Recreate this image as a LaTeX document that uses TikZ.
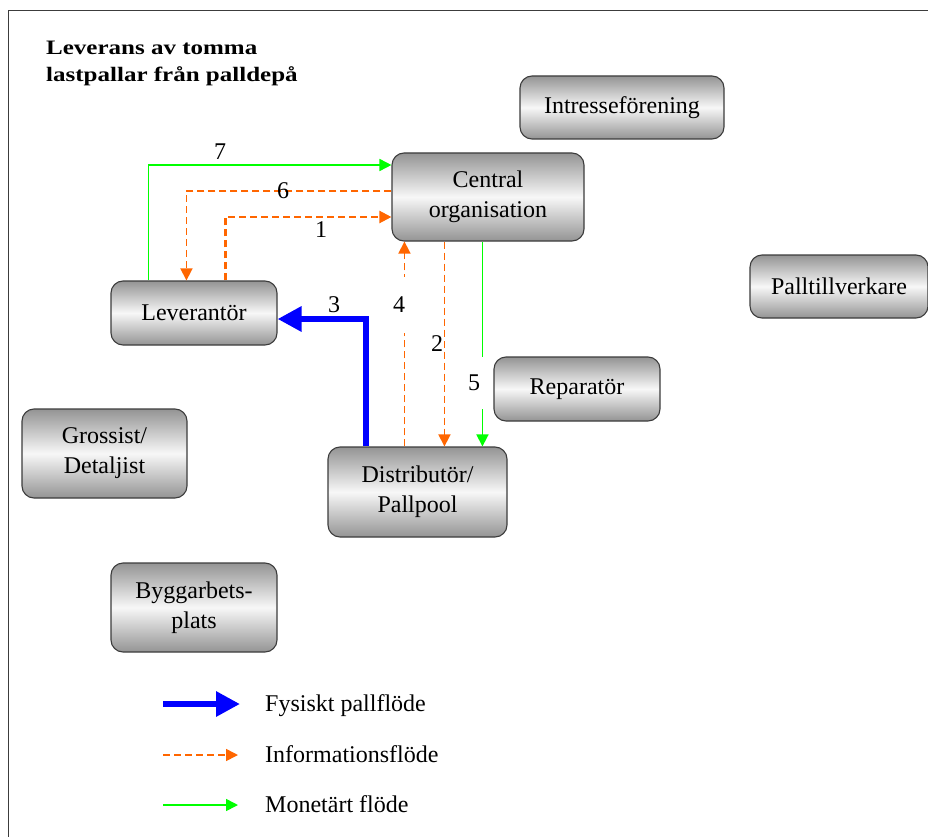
\documentclass[tikz,border=0pt]{standalone}
\usepackage{fontspec}
\setmainfont{Liberation Serif}
\newfontfamily\titlefont[FakeStretch=1.22]{Liberation Serif}
\usetikzlibrary{arrows.meta}
\definecolor{orangeF}{RGB}{255,102,0}
\definecolor{greenF}{RGB}{0,255,0}
\definecolor{blueF}{RGB}{0,0,255}
\definecolor{edgeC}{RGB}{60,60,60}
\begin{document}
\begin{tikzpicture}[x=1pt,y=-1pt,
  box/.style={draw=edgeC, line width=1.1pt, rounded corners=12pt,
    top color=black!42, bottom color=black!42, middle color=black!3,
    align=center, inner sep=0pt, font=\fontsize{24}{30}\selectfont},
  info/.style={draw=orangeF, dash pattern=on 7pt off 4pt, line width=1.6pt,
    -{Triangle[length=12pt,width=12pt]}},
  mon/.style={draw=greenF, line width=1.6pt, -{Triangle[length=12pt,width=12pt]}},
  phys/.style={draw=blueF, line width=6pt, -{Triangle[length=24pt,width=24pt]}},
  lab/.style={inner sep=0pt, font=\fontsize{24}{24}\selectfont},
  ttl/.style={inner sep=0pt, anchor=base west, font=\titlefont\bfseries\fontsize{20.5}{24}\selectfont},
  legtxt/.style={inner sep=0pt, anchor=base west, font=\fontsize{24}{24}\selectfont}]
\useasboundingbox (0,0) rectangle (928,837);
% frame
\draw[edgeC, line width=1pt] (928,11) -- (8,11) -- (8,837);
% title
\node[ttl] (t1) at (46,55) {Leverans av tomma};
\node[ttl] (t2) at (46,82) {lastpallar från palldepå};
% boxes
\node[box, minimum width=204pt, minimum height=63pt] (int) at (622,107.5) {Intresseförening};
\node[box, minimum width=192pt, minimum height=88pt] (cen) at (488,197) {Central\\organisation};
\node[box, minimum width=178pt, minimum height=63pt] (pal) at (839,286.5) {Palltillverkare};
\node[box, minimum width=166pt, minimum height=64pt] (lev) at (194,313) {Leverantör};
\node[box, minimum width=166pt, minimum height=64pt] (rep) at (577,389) {Reparatör};
\node[box, minimum width=165pt, minimum height=89pt] (gro) at (104.5,453.5) {Grossist/\\Detaljist};
\node[box, minimum width=179pt, minimum height=90pt] (dis) at (417.5,492) {Distributör/\\Pallpool};
\node[box, minimum width=166pt, minimum height=89pt] (byg) at (194,607.5) {Byggarbets-\\plats};
% connectors
\draw[mon] ([xshift=38pt]lev.north west) |- ([yshift=32pt]cen.west);
\draw[info] ([yshift=6pt]cen.west) -| ([xshift=76pt]lev.north west);
\draw[info, line width=2.2pt] ([xshift=115pt]lev.north west) |- ([yshift=-20pt]cen.west);
\coordinate (d4) at ([xshift=77pt]dis.north west);
\draw[info] (d4) -- (d4 |- cen.south);
\coordinate (d2) at ([xshift=117pt]dis.north west);
\draw[info] (d2 |- cen.south) -- (d2);
\coordinate (d5) at ([xshift=155pt]dis.north west);
\draw[mon] (d5 |- cen.south) -- (d5);
\draw[phys] ([xshift=39pt]dis.north west) |- ([yshift=-6pt]lev.east);
% labels
\node[lab] (n7) at (220,152) {7};
\node[lab] (n6) at (283,191) {6};
\node[lab] (n1) at (321,230) {1};
\node[lab] (n3) at (334,305) {3};
\node[lab, fill=white, minimum width=26pt, minimum height=56pt] (n4) at (399,305) {4};
\node[lab] (n2) at (437,344) {2};
\node[lab, fill=white, minimum width=24pt, minimum height=52pt] (n5) at (474,383) {5};
% legend
\coordinate (la1) at (163,704); \coordinate (lb1) at (240,704);
\coordinate (la2) at (163,755); \coordinate (lb2) at (238,755);
\coordinate (la3) at (163,805); \coordinate (lb3) at (238,805);
\draw[phys] (la1) -- (lb1);
\draw[info] (la2) -- (lb2);
\draw[mon] (la3) -- (lb3);
\node[legtxt] (lt1) at (265,711) {Fysiskt pallflöde};
\node[legtxt] (lt2) at (265,762) {Informationsflöde};
\node[legtxt] (lt3) at (265,812) {Monetärt flöde};
\end{tikzpicture}
\end{document}
